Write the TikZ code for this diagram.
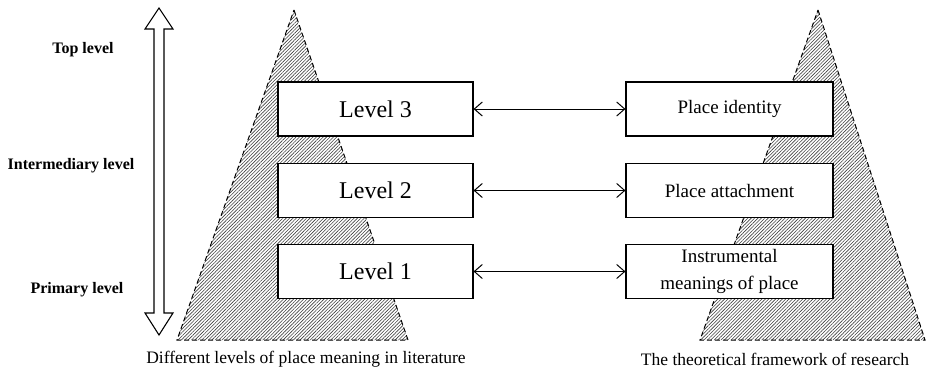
\documentclass[tikz,border=0pt]{standalone}
\usepackage{fontspec}
\setmainfont{Liberation Serif}
\usetikzlibrary{patterns.meta,arrows.meta}
\begin{document}
\begin{tikzpicture}[x=1pt,y=-1pt,
  tri/.style={draw=black,dashed,dash pattern=on 5pt off 3pt,line width=1pt,
    pattern={Lines[angle=45,distance=2.4pt,line width=0.6pt]},pattern color=black!75},
  lvbox/.style={draw=black,line width=1.1pt,fill=white,minimum width=195pt,minimum height=54pt,inner sep=0pt,font=\fontsize{24}{28}\selectfont},
  rbox/.style={draw=black,line width=1.1pt,fill=white,minimum width=207pt,minimum height=54pt,inner sep=0pt,align=center,font=\fontsize{19}{27}\selectfont},
  sidelab/.style={font=\fontsize{16}{18}\selectfont\bfseries},
  caplab/.style={font=\fontsize{17.5}{20}\selectfont},
  link/.style={line width=1pt,{Straight Barb[length=8pt,width=14pt]}-{Straight Barb[length=8pt,width=14pt]}}]
\useasboundingbox (0,0) rectangle (926,372);
% triangles
\path[tri] (294,10) -- (408,340) -- (177,340) -- cycle;
\path[tri] (818,10) -- (925,340) -- (700,340) -- cycle;
% double arrow
\draw[line width=1.1pt,fill=white] (159,8) -- (173,29) -- (164,29) -- (164,313) -- (173,313) -- (159,335) -- (145,313) -- (154,313) -- (154,29) -- (145,29) -- cycle;
% side labels
\node[sidelab] (top) at (83,50) {Top level};
\node[sidelab] (mid) at (71,166) {Intermediary level};
\node[sidelab] (pri) at (77,290) {Primary level};
% boxes
\node[lvbox] (l3) at (375.5,109) {Level 3};
\node[lvbox] (l2) at (375.5,190.5) {Level 2};
\node[lvbox] (l1) at (375.5,271.5) {Level 1};
\node[rbox] (r3) at (729.5,109) {Place identity};
\node[rbox] (r2) at (729.5,190.5) {Place attachment};
\node[rbox] (r1) at (729.5,271.5) {Instrumental\\meanings of place};
% links
\draw[link] (l3) -- (r3);
\draw[link] (l2) -- (r2);
\draw[link] (l1) -- (r1);
% captions
\node[caplab] (c1) at (306,359) {Different levels of place meaning in literature};
\node[caplab] (c2) at (775,359) {The theoretical framework of research};
\end{tikzpicture}
\end{document}
